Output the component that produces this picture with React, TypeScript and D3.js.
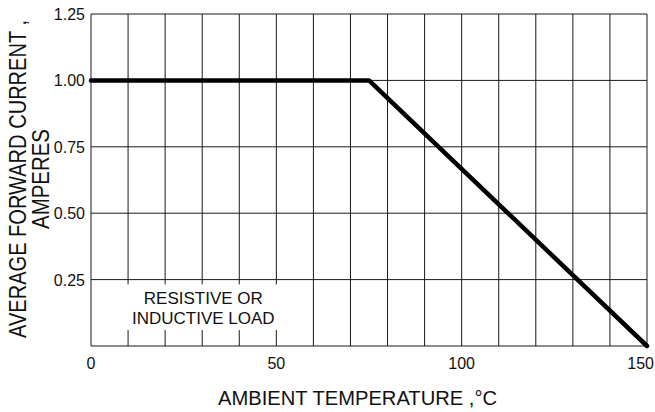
import React, { useEffect, useRef } from 'react';
import * as d3 from 'd3';

// derating curve: average forward current vs ambient temperature
const temperature = [0, 75, 150];
const current = [1.0, 1.0, 0];

const xTicks = [0, 50, 100, 150];
const yTicks = [0.25, 0.5, 0.75, 1.0, 1.25];
const xGridStep = 10;

const noteLines = ['RESISTIVE OR', 'INDUCTIVE LOAD'];
const xTitle = 'AMBIENT TEMPERATURE ,°C';
const yTitleLines = ['AVERAGE FORWARD CURRENT ,', 'AMPERES'];

const App = () => {
  const svgRef = useRef<SVGSVGElement>(null);

  useEffect(() => {
    const width = 655;
    const height = 412;
    const margin = { top: 14, right: 8, bottom: 66, left: 91 };
    const font = '"Liberation Sans", Arial, sans-serif';

    d3.select(svgRef.current).selectAll('*').remove();

    const svg = d3.select(svgRef.current)
      .attr('width', width)
      .attr('height', height);

    const x = d3.scaleLinear()
      .domain([0, 150])
      .range([margin.left, width - margin.right]);

    const y = d3.scaleLinear()
      .domain([0, 1.25])
      .range([height - margin.bottom, margin.top]);

    // grid
    const grid = svg.append('g').attr('stroke', '#1a1a1a').attr('stroke-width', 1);

    grid.selectAll('.vgrid')
      .data(d3.range(0, 150 + 1, xGridStep))
      .enter().append('line')
      .attr('x1', d => x(d))
      .attr('x2', d => x(d))
      .attr('y1', y(0))
      .attr('y2', y(1.25));

    grid.selectAll('.hgrid')
      .data([0, ...yTicks])
      .enter().append('line')
      .attr('x1', x(0))
      .attr('x2', x(150))
      .attr('y1', d => y(d))
      .attr('y2', d => y(d));

    // note box covers the grid
    const note = svg.append('g');
    note.append('rect')
      .attr('x', x(3))
      .attr('y', y(0.232))
      .attr('width', x(55) - x(3))
      .attr('height', y(0.06) - y(0.232))
      .attr('fill', '#fff');

    note.selectAll('text')
      .data(noteLines)
      .enter().append('text')
      .attr('x', x(30.3))
      .attr('y', (d, i) => 304 + i * 19.5)
      .attr('text-anchor', 'middle')
      .attr('font-family', font)
      .attr('font-size', 17)
      .attr('fill', '#111')
      .text(d => d);

    // curve
    const line = d3.line<number>()
      .x((d, i) => x(temperature[i]))
      .y(d => y(d));

    svg.append('path')
      .datum(current)
      .attr('d', line)
      .attr('fill', 'none')
      .attr('stroke', '#000')
      .attr('stroke-width', 4.5)
      .attr('stroke-linejoin', 'round')
      .attr('stroke-linecap', 'round');

    // tick labels (last one sits against the right edge)
    const lastX = xTicks[xTicks.length - 1];
    svg.selectAll('.xlabel')
      .data(xTicks)
      .enter().append('text')
      .attr('x', d => (d === lastX ? width - 1 : x(d)))
      .attr('y', 369)
      .attr('text-anchor', d => (d === lastX ? 'end' : 'middle'))
      .attr('font-family', font)
      .attr('font-size', 16)
      .attr('fill', '#111')
      .text(d => d);

    svg.selectAll('.ylabel')
      .data(yTicks)
      .enter().append('text')
      .attr('x', 85)
      .attr('y', d => y(d) + 6)
      .attr('text-anchor', 'end')
      .attr('font-family', font)
      .attr('font-size', 16)
      .attr('fill', '#111')
      .text(d => d.toFixed(2));

    // axis titles
    svg.append('text')
      .attr('x', 218)
      .attr('y', 405)
      .attr('font-family', font)
      .attr('font-size', 20)
      .attr('fill', '#111')
      .attr('textLength', 279)
      .attr('lengthAdjust', 'spacingAndGlyphs')
      .text(xTitle);

    // y title glyphs are a bit taller than wide in the reference
    svg.selectAll('.ytitle')
      .data(yTitleLines)
      .enter().append('text')
      .attr('transform', (d, i) => `translate(${i === 0 ? 25.5 : 48.5},179) rotate(-90) scale(1,1.2)`)
      .attr('text-anchor', 'middle')
      .attr('font-family', font)
      .attr('font-size', 20)
      .attr('fill', '#111')
      .attr('textLength', (d, i) => (i === 0 ? 318 : 100))
      .attr('lengthAdjust', 'spacingAndGlyphs')
      .text(d => d);
  }, []);

  return (
    <svg ref={svgRef} style={{ position: 'absolute', left: 0, top: 0, background: '#fff' }}></svg>
  );
};

export default App;
